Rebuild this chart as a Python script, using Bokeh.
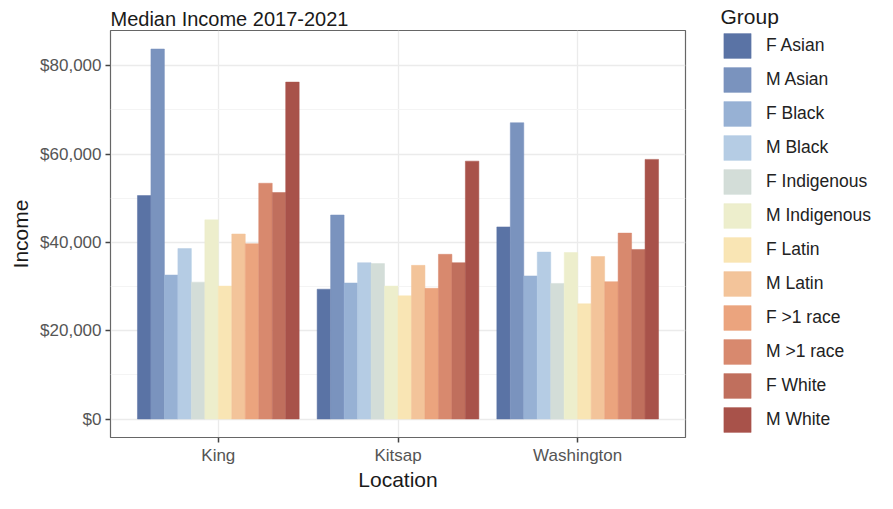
from bokeh.plotting import figure
from bokeh.layouts import row
from bokeh.models import (FactorRange, Range1d, ColumnDataSource, FixedTicker,
                          NumeralTickFormatter, Legend, LegendItem)
from bokeh.transform import dodge
from bokeh.embed import file_html
from bokeh.resources import INLINE

# ---------------- data ----------------
locations = ["King", "Kitsap", "Washington"]
groups = ["F Asian", "M Asian", "F Black", "M Black", "F Indigenous", "M Indigenous",
          "F Latin", "M Latin", "F >1 race", "M >1 race", "F White", "M White"]
king = [50600, 83800, 32600, 38600, 31000, 45100, 30100, 41900, 39700, 53400, 51300, 76300]
kitsap = [29400, 46200, 30800, 35400, 35200, 30100, 27900, 34800, 29600, 37300, 35400, 58400]
washington = [43500, 67100, 32400, 37800, 30700, 37700, 26100, 36800, 31100, 42100, 38400, 58800]
colors = ["#5a73a5", "#7a93be", "#97b1d4", "#b5cce4", "#d3ddd8", "#edeecc",
          "#f9e5b4", "#f3c49a", "#eba47e", "#d8896e", "#c06f5d", "#a8524a"]
y_ticks = [0, 20000, 40000, 60000, 80000]
y_minor = [10000, 30000, 50000, 70000]
title = "Median Income 2017-2021"
legend_title = "Group"

FONT = "Liberation Sans"

data = {"location": locations}
for i in range(len(groups)):
    data[f"g{i}"] = [king[i], kitsap[i], washington[i]]
source = ColumnDataSource(data)

ymax = max(king + kitsap + washington)

W_MAIN, W_LEG, H = 697, 180, 493

p = figure(width=W_MAIN, height=H, output_backend="svg", toolbar_location=None,
           x_range=FactorRange(factors=locations, range_padding=0.2 / 3,
                               range_padding_units="percent"),
           y_range=Range1d(-0.05 * ymax, 1.05 * ymax),
           title=title)

p.min_border_left = 110
p.min_border_right = 12
p.min_border_top = 10
p.min_border_bottom = 5

p.title.text_font = FONT
p.title.text_font_size = "20px"
p.title.text_font_style = "normal"
p.title.text_color = "#1a1a1a"
p.title.standoff = 2

p.outline_line_color = "#666666"
p.outline_line_width = 1.2
p.background_fill_color = "white"
p.border_fill_color = "white"

n = len(groups)
bw = 0.9 / n
for i in range(n):
    off = -0.45 + bw * (i + 0.5)
    p.vbar(x=dodge("location", off, range=p.x_range), top=f"g{i}", width=bw,
           source=source, fill_color=colors[i], line_color=colors[i], line_width=0.5)

# axes
p.yaxis.ticker = FixedTicker(ticks=y_ticks, minor_ticks=y_minor)
p.yaxis.formatter = NumeralTickFormatter(format="$0,0")
for ax in (p.xaxis, p.yaxis):
    ax.axis_line_color = None
    ax.major_tick_in = 0
    ax.major_tick_out = 5
    ax.major_tick_line_color = "#444444"
    ax.major_tick_line_width = 1.5
    ax.minor_tick_line_color = None
    ax.major_label_text_font = FONT
    ax.major_label_text_font_size = "17px"
    ax.major_label_text_color = "#555555"
    ax.axis_label_text_font = FONT
    ax.axis_label_text_font_size = "21px"
    ax.axis_label_text_font_style = "normal"
    ax.axis_label_text_color = "#1a1a1a"
p.yaxis.axis_label = "Income"
p.xaxis.axis_label = "Location"
p.yaxis.major_label_standoff = 4
p.yaxis.axis_label_standoff = 5
p.xaxis.major_label_standoff = 3
p.xaxis.axis_label_standoff = 0

p.ygrid.grid_line_color = "#ebebeb"
p.ygrid.grid_line_width = 1.3
p.ygrid.minor_grid_line_color = "#f4f4f4"
p.ygrid.minor_grid_line_width = 1
p.xgrid.grid_line_color = "#ebebeb"
p.xgrid.grid_line_width = 1.3

# ---------------- legend panel (second figure, same data) ----------------
q = figure(width=W_LEG, height=H, output_backend="svg", toolbar_location=None,
           x_range=p.x_range, y_range=p.y_range, title=legend_title)
q.axis.visible = False
q.grid.visible = False
q.outline_line_color = None
q.min_border = 0
q.border_fill_color = "white"
q.background_fill_color = "white"
q.title.text_font = FONT
q.title.text_font_size = "21px"
q.title.text_font_style = "normal"
q.title.text_color = "#1a1a1a"
q.title.align = "left"
q.title.offset = 23
q.title.standoff = 5

items = []
for i in range(n):
    off = -0.45 + bw * (i + 0.5)
    r = q.vbar(x=dodge("location", off, range=q.x_range), top=f"g{i}", width=bw,
               source=source, fill_color=colors[i], line_color=colors[i],
               line_width=0.5, visible=False)
    items.append(LegendItem(label=groups[i], renderers=[r]))

legend = Legend(items=items, location=(23, 2))
legend.ncols = 1
legend.padding = 0
legend.margin = 0
legend.border_line_color = None
legend.background_fill_alpha = 0
legend.inactive_fill_alpha = 0
legend.glyph_width = 34
legend.glyph_height = 31
legend.spacing = 3
legend.label_standoff = 12
legend.label_text_font = FONT
legend.label_text_font_size = "17.5px"
legend.label_text_color = "#222222"
q.add_layout(legend, "center")

layout = row(p, q)

open("out.html", "w").write(file_html(layout, INLINE))
